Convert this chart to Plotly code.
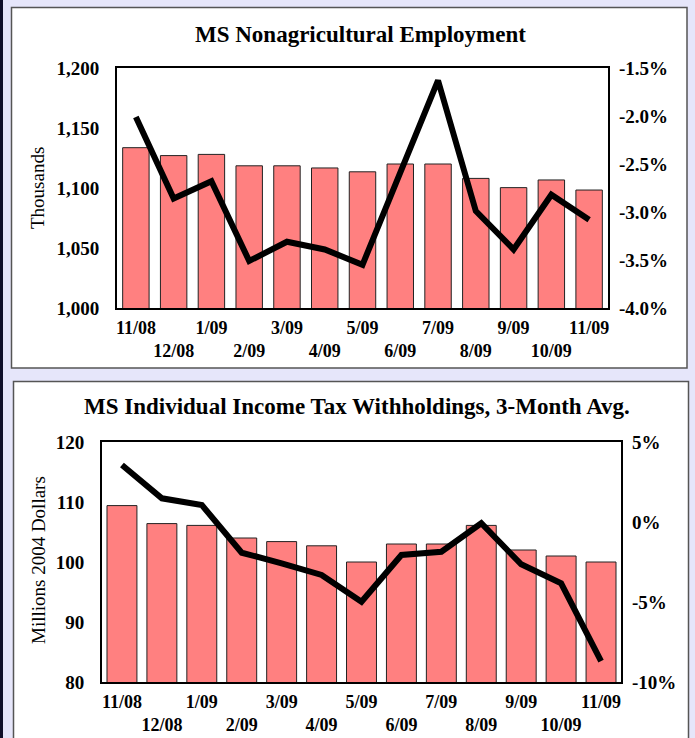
import plotly.graph_objects as go

W, H = 695, 738

months = ["11/08", "12/08", "1/09", "2/09", "3/09", "4/09", "5/09",
          "6/09", "7/09", "8/09", "9/09", "10/09", "11/09"]

# Nonagricultural employment (thousands) and year-over-year change (%)
employment = [1133.6, 1127.0, 1128.0, 1118.5, 1118.5, 1116.7, 1113.5,
              1120.0, 1120.0, 1108.0, 1100.3, 1106.7, 1098.3]
employment_growth = [-2.01, -2.86, -2.68, -3.51, -3.31, -3.39, -3.55,
                     -2.57, -1.63, -2.99, -3.39, -2.82, -3.08]

# Individual income tax withholdings, 3-month average (millions 2004 $) and change (%)
withholdings = [109.4, 106.4, 106.1, 104.0, 103.4, 102.7, 100.0,
                103.0, 103.0, 106.1, 102.0, 101.0, 100.0]
withholdings_growth = [3.56, 1.48, 1.06, -1.92, -2.58, -3.31, -4.98,
                       -2.06, -1.86, -0.08, -2.64, -3.83, -8.69]

# Right-axis tick positions (percent)
emp_pct_ticks = [-4.0, -3.5, -3.0, -2.5, -2.0, -1.5]
wh_pct_ticks = [-10, -5, 0, 5]

FONT = "Liberation Serif"
BAR_COLOR = "#FF8080"

x = list(range(len(months)))
ticktext = [f"<b>{m}</b>" if i % 2 == 0 else f"<br><b>{m}</b>" for i, m in enumerate(months)]


def px_x(v):
    return v / W


def px_y(v):
    return 1 - v / H


fig = go.Figure()

# Top chart
fig.add_trace(go.Bar(x=x, y=employment, marker=dict(color=BAR_COLOR, line=dict(color="#222", width=1)),
                     width=0.7, xaxis="x", yaxis="y", showlegend=False))
fig.add_trace(go.Scatter(x=x, y=employment_growth, mode="lines", line=dict(color="black", width=6),
                         xaxis="x", yaxis="y2", showlegend=False))

# Bottom chart
fig.add_trace(go.Bar(x=x, y=withholdings, marker=dict(color=BAR_COLOR, line=dict(color="#222", width=1)),
                     width=0.75, xaxis="x2", yaxis="y3", showlegend=False))
fig.add_trace(go.Scatter(x=x, y=withholdings_growth, mode="lines", line=dict(color="black", width=6),
                         xaxis="x2", yaxis="y4", showlegend=False))

tickfont = dict(family=FONT, size=19, color="black", weight="bold")
xtickfont = dict(family=FONT, size=18, color="black", weight="bold")
xcommon = dict(tickvals=x, ticktext=ticktext, range=[-0.5, len(months) - 0.5], showgrid=False,
               zeroline=False, showline=True, mirror=True, linecolor="black", linewidth=2,
               ticks="", tickfont=xtickfont, tickangle=0, ticklabelstandoff=2, automargin=False)
ycommon = dict(showgrid=False, zeroline=False, ticks="", tickfont=tickfont, automargin=False)

top_dom_x = [px_x(117), px_x(608)]
top_dom_y = [px_y(308), px_y(68)]
bot_dom_x = [px_x(102), px_x(621)]
bot_dom_y = [px_y(682), px_y(442)]

fig.update_layout(
    width=W, height=H,
    autosize=False,
    margin=dict(l=0, r=0, t=0, b=0, pad=0, autoexpand=False),
    paper_bgcolor="#E6E6FA",
    plot_bgcolor="white",
    bargap=0.3,
    xaxis=dict(domain=top_dom_x, anchor="y", **xcommon),
    yaxis=dict(domain=top_dom_y, anchor="x", range=[1000, 1200], dtick=50, tickformat=",",
               showline=True, mirror=True, linecolor="black", linewidth=2,
               ticklabelstandoff=12, **ycommon),
    yaxis2=dict(overlaying="y", side="right", anchor="x", range=[-4.0, -1.5],
                tickvals=emp_pct_ticks, ticktext=[f"{v:.1f}%" for v in emp_pct_ticks],
                showline=False, ticklabelstandoff=10, **ycommon),
    xaxis2=dict(domain=bot_dom_x, anchor="y3", **xcommon),
    yaxis3=dict(domain=bot_dom_y, anchor="x2", range=[80, 120], dtick=10,
                showline=True, mirror=True, linecolor="black", linewidth=2,
                ticklabelstandoff=12, **ycommon),
    yaxis4=dict(overlaying="y3", side="right", anchor="x2", range=[-10, 5],
                tickvals=wh_pct_ticks, ticktext=[f"{v}%" for v in wh_pct_ticks],
                showline=False, ticklabelstandoff=10, **ycommon),
)

# Background panels
shapes = [
    dict(type="rect", xref="paper", yref="paper", x0=0, x1=px_x(3), y0=0, y1=1,
         fillcolor="#10102A", line=dict(width=0), layer="below"),
    dict(type="rect", xref="paper", yref="paper", x0=px_x(11.5), x1=px_x(687), y0=px_y(368), y1=px_y(7.5),
         fillcolor="white", line=dict(color="#555", width=1.5), layer="below"),
    dict(type="rect", xref="paper", yref="paper", x0=px_x(13.5), x1=px_x(688.5), y0=px_y(760), y1=px_y(381.5),
         fillcolor="white", line=dict(color="#555", width=1.5), layer="below"),
]
fig.update_layout(shapes=shapes)

annotations = [
    dict(text="<b>MS Nonagricultural Employment</b>", x=px_x(360), y=px_y(34), xref="paper", yref="paper",
         showarrow=False, font=dict(family=FONT, size=23, color="black"), xanchor="center", yanchor="middle"),
    dict(text="<b>MS Individual Income Tax Withholdings, 3-Month Avg.</b>", x=px_x(357), y=px_y(406),
         xref="paper", yref="paper", showarrow=False, font=dict(family=FONT, size=23, color="black"),
         xanchor="center", yanchor="middle"),
    dict(text="Thousands", x=px_x(37), y=px_y(188), xref="paper", yref="paper", showarrow=False,
         textangle=-90, font=dict(family=FONT, size=19, color="black"), xanchor="center", yanchor="middle"),
    dict(text="Millions 2004 Dollars", x=px_x(38), y=px_y(560), xref="paper", yref="paper", showarrow=False,
         textangle=-90, font=dict(family=FONT, size=19, color="black"), xanchor="center", yanchor="middle"),
]
fig.update_layout(annotations=annotations)

fig.write_html("out.html")
